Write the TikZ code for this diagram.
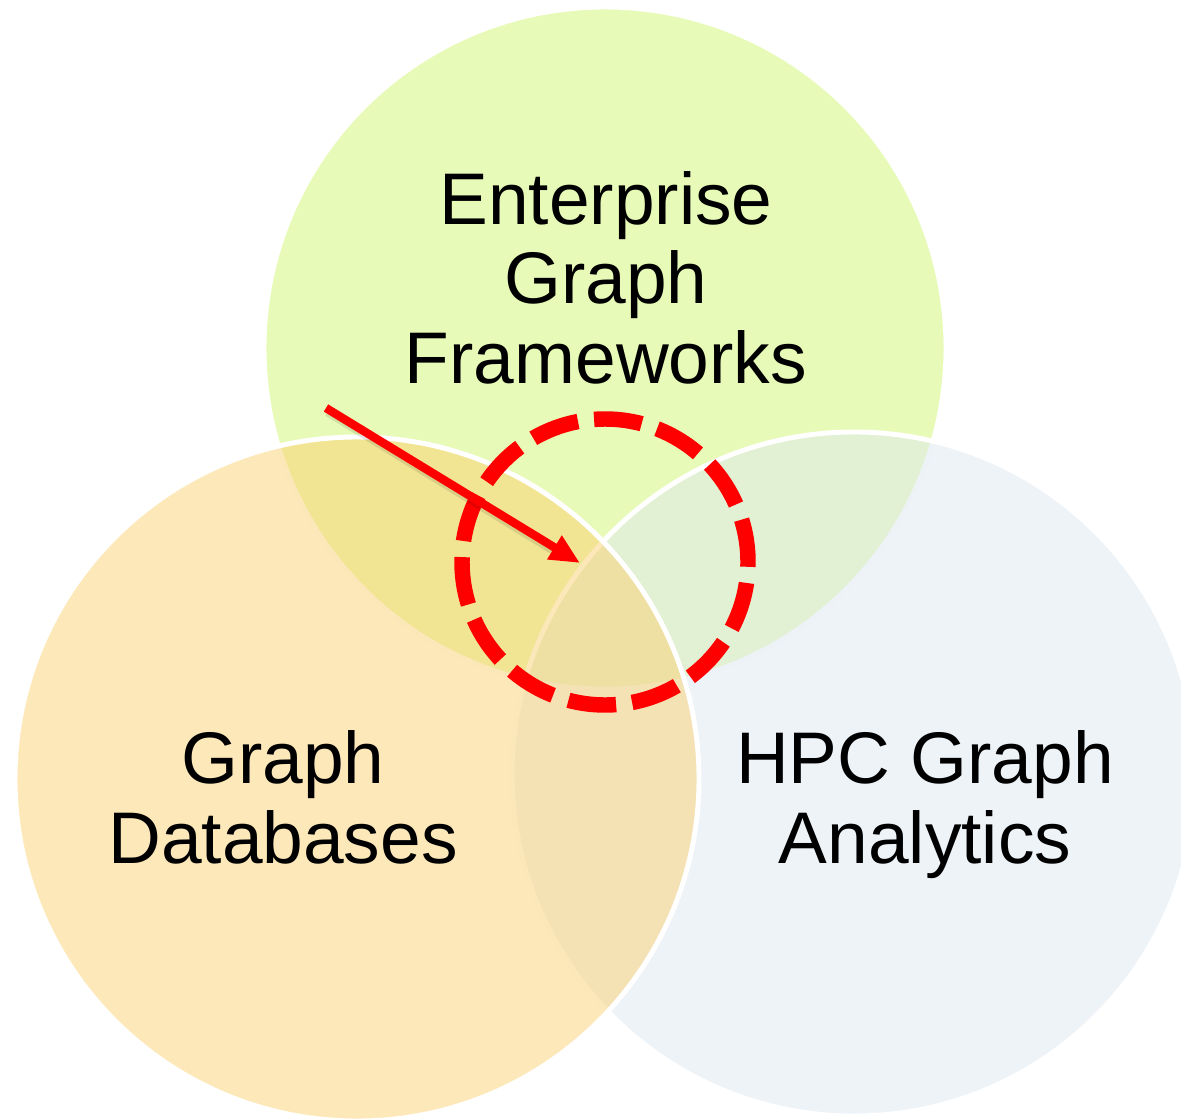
\documentclass[tikz,border=0pt]{standalone}
\usepackage{fontspec}
\setmainfont{Liberation Sans}
\usetikzlibrary{arrows.meta}
\definecolor{entgreen}{RGB}{207,245,111}
\definecolor{dborange}{RGB}{251,209,115}
\definecolor{hpcblue}{RGB}{221,231,241}
\definecolor{markred}{RGB}{255,0,0}

\begin{document}
\begin{tikzpicture}[
  setcircle/.style={fill=#1,fill opacity=0.5,draw=white,line width=1.4pt},
  setlabel/.style={align=center,anchor=base,inner sep=0pt,
    font=\fontsize{20.8}{22.5}\selectfont},
  focusring/.style={draw=markred,line width=4.4pt,
    dash pattern=on 0.48cm off 0.162cm,dash phase=0.05cm},
  pointer/.style={draw=markred,line width=2.4pt,
    -{Triangle[length=0.3cm,width=0.26cm]}},
  pointershade/.style={draw=black,opacity=0.1,line width=2.8pt}]
\useasboundingbox (0,0) rectangle (11.81,11.19);
% the three sets: top first, then right, then left on top
\path[setcircle=entgreen] (6.05,7.71) circle (3.41cm);
\path[setcircle=hpcblue] (8.54,3.45) circle (3.42cm);
\path[setcircle=dborange] (3.57,3.40) circle (3.42cm);
% set names (base = last line)
\node[setlabel] (ent) at (6.06,7.36) {Enterprise\\Graph\\Frameworks};
\node[setlabel] (gdb) at (2.83,2.56) {Graph\\Databases};
\node[setlabel] (hpc) at (9.25,2.56) {HPC Graph\\Analytics};
% the common part
\coordinate (core) at (6.05,5.57);
\draw[focusring] (core) circle (1.43cm);
\coordinate (from) at (3.26,7.11);
\coordinate (hit) at (5.80,5.56);
\draw[pointershade] ([shift={(0.02,-0.035)}]from) -- ([shift={(-0.23,0.11)}]hit);
\draw[pointer] (from) -- (hit);
\end{tikzpicture}
\end{document}
